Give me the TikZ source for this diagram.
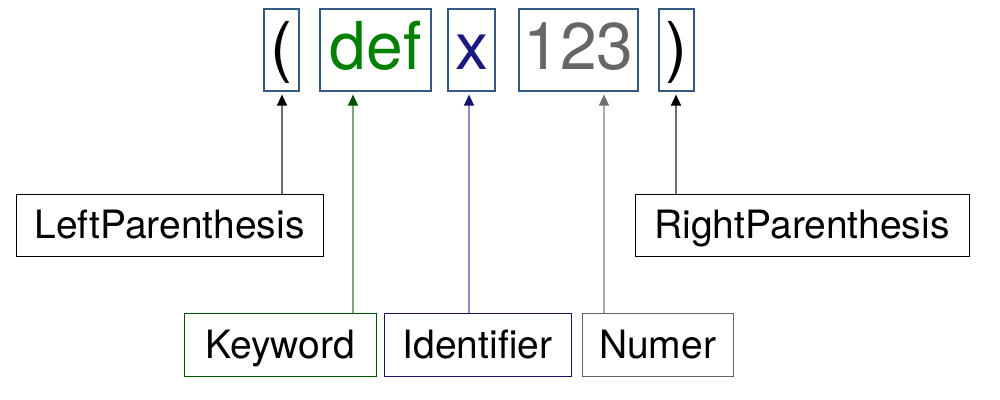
\documentclass[tikz,border=0pt]{standalone}
\usepackage{fontspec}
\setmainfont{TeX Gyre Heros}
\usetikzlibrary{arrows.meta}
\definecolor{tokborder}{RGB}{50,90,130}
\definecolor{kwgreen}{RGB}{0,128,0}
\definecolor{kwdark}{RGB}{0,80,0}
\definecolor{kwline}{RGB}{125,170,125}
\definecolor{idnavy}{RGB}{26,26,128}
\definecolor{iddark}{RGB}{20,20,110}
\definecolor{idline}{RGB}{140,140,190}
\definecolor{numgray}{RGB}{102,102,102}
\definecolor{numdark}{RGB}{100,100,100}
\definecolor{numline}{RGB}{170,170,170}
\definecolor{numhead}{RGB}{110,110,110}
\definecolor{parline}{RGB}{110,110,110}
\tikzset{
  tok/.style={draw=tokborder, line width=0.6pt, inner sep=0pt, minimum height=41pt,
    font=\fontsize{33}{38}\selectfont, text height=23pt, text depth=3pt},
  lbl/.style={draw, line width=0.5pt, inner sep=0pt, minimum height=31pt,
    font=\fontsize{19.5}{23}\selectfont, text height=15pt, text depth=2pt},
  conn/.style={line width=0.7pt, shorten >=1.5pt}
}
\begin{document}
\begin{tikzpicture}[x=0.5pt,y=-0.5pt]
\useasboundingbox (0,0) rectangle (1000,400);
% tokens
\node[tok, minimum width=17.5pt] (lp) at (281.5,50) {(};
\node[tok, minimum width=55.5pt, text=kwgreen] (def) at (375.5,50) {def};
\node[tok, minimum width=23.5pt, text=idnavy] (xx) at (471.5,50) {x};
\node[tok, minimum width=59.5pt, text=numgray] (num) at (578.5,50) {123};
\node[tok, minimum width=17.5pt] (rp) at (676.5,50) {)};
% labels
\node[lbl, draw=black, minimum width=153.5pt] (llp) at (169.5,225.5) {LeftParenthesis};
\node[lbl, draw=black, minimum width=167pt] (lrp) at (802,225.5) {RightParenthesis};
\node[lbl, draw=kwdark, minimum width=96pt] (lkw) at (280,345) {Keyword};
\node[lbl, draw=iddark, minimum width=93.5pt] (lid) at (477.5,345) {Identifier};
\node[lbl, draw=numdark, minimum width=75.5pt] (lnum) at (657.5,345) {Numer};
% arrow x positions
\coordinate (alp) at (282,0);
\coordinate (akw) at (353,0);
\coordinate (aid) at (469,0);
\coordinate (anum) at (604,0);
\coordinate (arp) at (676,0);
% connectors
\draw[conn, draw=parline, -{Triangle[length=5.5pt,width=5pt,color=black]}] (alp |- llp.north) -- (alp |- lp.south);
\draw[conn, draw=kwline, -{Triangle[length=5.5pt,width=5pt,color=kwdark]}] (akw |- lkw.north) -- (akw |- def.south);
\draw[conn, draw=idline, -{Triangle[length=5.5pt,width=5pt,color=iddark]}] (aid |- lid.north) -- (aid |- xx.south);
\draw[conn, draw=numline, -{Triangle[length=5.5pt,width=5pt,color=numhead]}] (anum |- lnum.north) -- (anum |- num.south);
\draw[conn, draw=parline, -{Triangle[length=5.5pt,width=5pt,color=black]}] (arp |- lrp.north) -- (arp |- rp.south);
\end{tikzpicture}
\end{document}
